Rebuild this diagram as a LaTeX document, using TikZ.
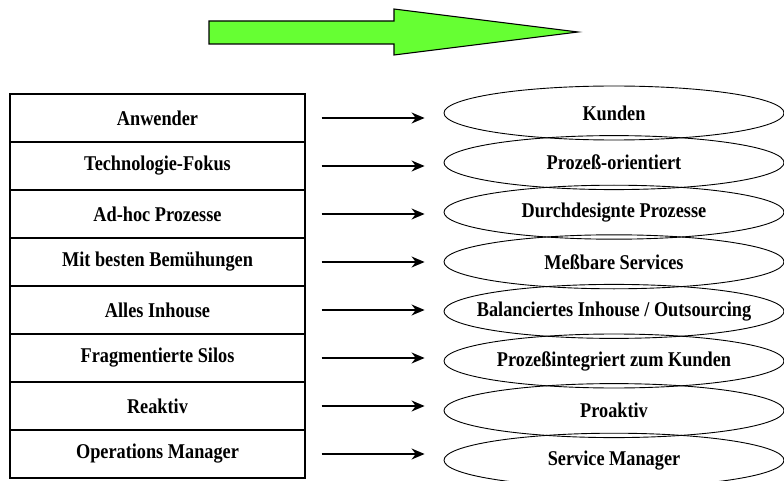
\documentclass[tikz,border=0pt]{standalone}
\usepackage{fontspec}
\usepackage{tikz}
\usetikzlibrary{shapes.geometric,arrows.meta}
\newfontfamily\lblfont{Liberation Serif}[FakeStretch=0.87]
\definecolor{bg}{HTML}{FFFFFF}
\definecolor{ink}{HTML}{000000}
\definecolor{shift}{HTML}{66FF33}
\tikzset{
  oldBox/.style={draw=ink, line width=1.4pt, rectangle, minimum width=295pt, minimum height=48pt, inner sep=0pt},
  newOval/.style={draw=ink, line width=0.9pt, ellipse, minimum width=340pt, minimum height=54pt, inner sep=0pt},
  lbl/.style={text=ink, font=\lblfont\bfseries\fontsize{21}{24}\selectfont},
  conn/.style={draw=ink, line width=1.2pt, -{Stealth[length=13pt,width=11pt]}},
  bigArrow/.style={draw=ink, fill=shift, line width=1.1pt, line join=miter},
}

\begin{document}
\begin{tikzpicture}[x=1pt, y=-1pt]
  \fill[bg] (0,0) rectangle (784,481);
  \useasboundingbox (0,0) rectangle (784,481);

  % direction of change
  \draw[bigArrow] (209,21) -- (394,21) -- (394,9) -- (578,32) -- (394,55)
    -- (394,44) -- (209,44) -- cycle;

  \foreach \i/\old/\new in {
      1/Anwender/Kunden,
      2/Technologie-Fokus/Prozeß-orientiert,
      3/Ad-hoc Prozesse/Durchdesignte Prozesse,
      4/Mit besten Bemühungen/Meßbare Services,
      5/Alles Inhouse/{Balanciertes Inhouse / Outsourcing},
      6/Fragmentierte Silos/Prozeßintegriert zum Kunden,
      7/Reaktiv/Proaktiv,
      8/Operations Manager/Service Manager}{
    \node[oldBox, lbl] (L\i) at (157.5, {118+48*(\i-1)}) {\old};
    \node[newOval, lbl] (R\i) at (614, {113+49.6*(\i-1)}) {\makebox[0pt]{\new}};
    \draw[conn, shorten <=16pt, shorten >=19pt] (L\i.east) -- (L\i.east -| R\i.west);
  }
\end{tikzpicture}
\end{document}
